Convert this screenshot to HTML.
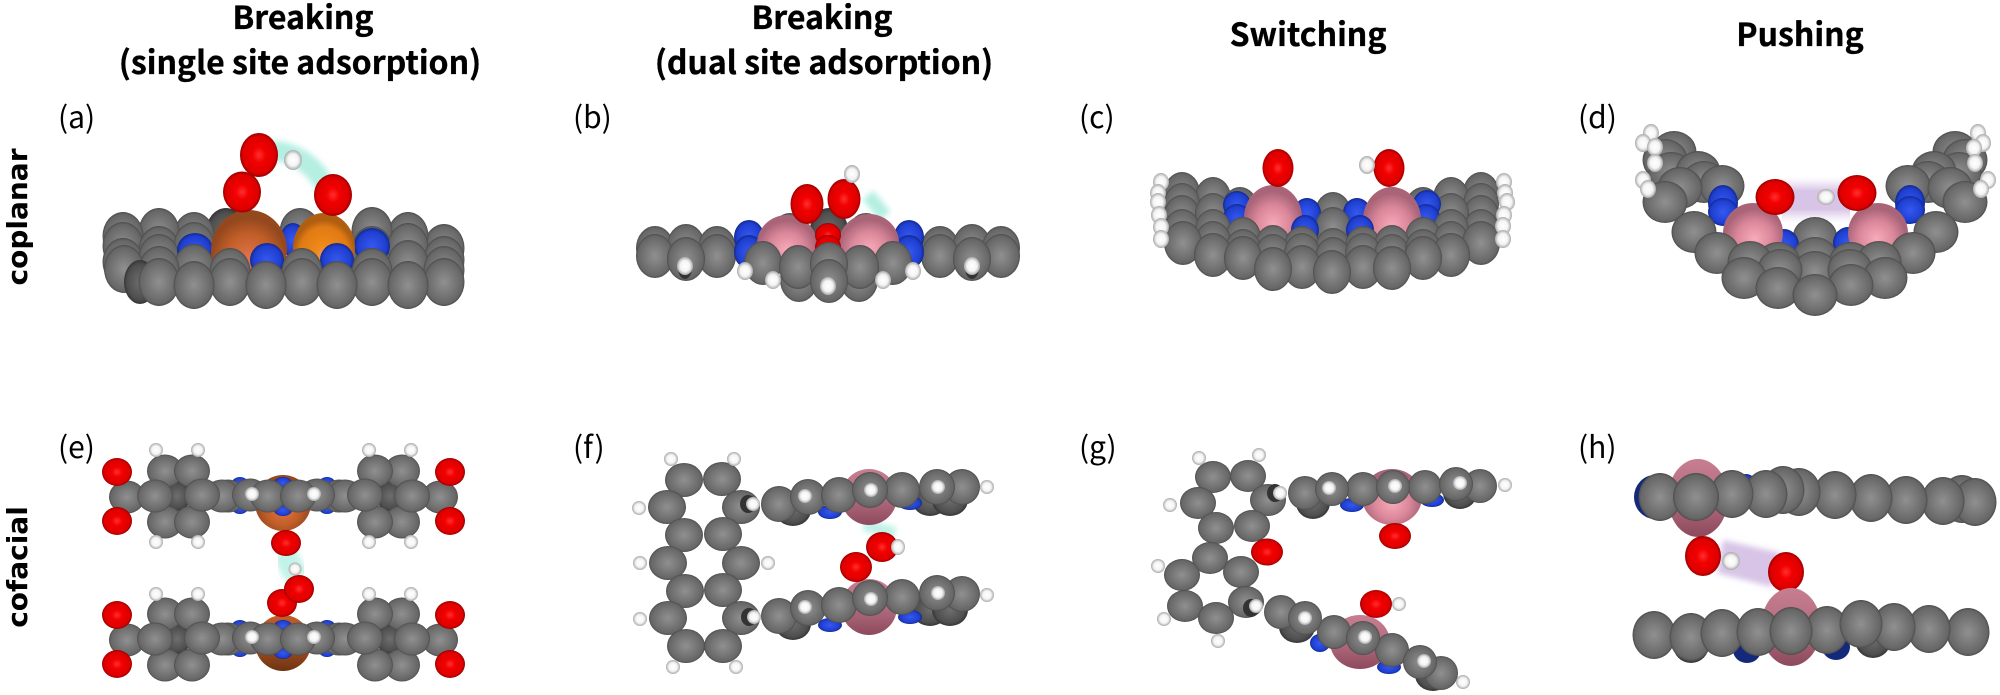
<!DOCTYPE html>
<html><head><meta charset="utf-8"><style>
html,body{margin:0;padding:0;background:#fff;width:2000px;height:695px;overflow:hidden}
svg{display:block}
.h{font-family:"Noto Sans CJK JP","Liberation Sans",sans-serif;font-weight:700;font-size:32px;text-anchor:middle;fill:#000;stroke:#000;stroke-width:.35px}
.l{font-family:"Noto Sans CJK JP","Liberation Sans",sans-serif;font-weight:400;font-size:30px;fill:#000}
.s{font-family:"DejaVu Sans",sans-serif;font-weight:700;font-size:28px;text-anchor:middle;fill:#000}
</style></head><body>
<svg xmlns="http://www.w3.org/2000/svg" width="2000" height="695" viewBox="0 0 2000 695">
<defs>
<radialGradient id="gc"><stop offset="0" stop-color="#909090"/><stop offset=".5" stop-color="#797979"/><stop offset=".9" stop-color="#666"/><stop offset="1" stop-color="#4c4c4c"/></radialGradient>
<radialGradient id="gd"><stop offset="0" stop-color="#6e6e6e"/><stop offset=".8" stop-color="#4e4e4e"/><stop offset="1" stop-color="#363636"/></radialGradient>
<radialGradient id="gr"><stop offset="0" stop-color="#ff3030"/><stop offset=".35" stop-color="#f20000"/><stop offset=".85" stop-color="#dc0000"/><stop offset="1" stop-color="#990000"/></radialGradient>
<radialGradient id="gb"><stop offset="0" stop-color="#3558f0"/><stop offset=".8" stop-color="#1f3fd0"/><stop offset="1" stop-color="#122a90"/></radialGradient>
<radialGradient id="gw"><stop offset="0" stop-color="#fff"/><stop offset=".6" stop-color="#f4f4f4"/><stop offset="1" stop-color="#aaa"/></radialGradient>
<radialGradient id="gp" cy=".6"><stop offset="0" stop-color="#f9abba"/><stop offset=".6" stop-color="#d98699"/><stop offset="1" stop-color="#a96478"/></radialGradient>
<linearGradient id="gpd" x1="0" y1="0" x2="0" y2="1"><stop offset="0" stop-color="#c77e90"/><stop offset=".5" stop-color="#b36c80"/><stop offset="1" stop-color="#8d4a5c"/></linearGradient>
<radialGradient id="gf" cy=".6"><stop offset="0" stop-color="#e0744a"/><stop offset=".6" stop-color="#c25e28"/><stop offset="1" stop-color="#94481e"/></radialGradient>
<linearGradient id="gfd" x1="0" y1="0" x2="0" y2="1"><stop offset="0" stop-color="#c25e28"/><stop offset=".55" stop-color="#a84e20"/><stop offset="1" stop-color="#6c3412"/></linearGradient>
<radialGradient id="go" cy=".6"><stop offset="0" stop-color="#f09a80"/><stop offset=".25" stop-color="#f08a18"/><stop offset=".8" stop-color="#e07a14"/><stop offset="1" stop-color="#b05f10"/></radialGradient>
<linearGradient id="gv" x1="0" y1="0" x2="0" y2="1"><stop offset="0" stop-color="#e4d6ee" stop-opacity="0"/><stop offset=".3" stop-color="#d8c4e6"/><stop offset=".7" stop-color="#d8c4e6"/><stop offset="1" stop-color="#e4d6ee" stop-opacity="0"/></linearGradient>
<filter id="bl" x="-40%" y="-40%" width="180%" height="180%"><feGaussianBlur stdDeviation="3"/></filter>
<ellipse id="a" rx="20.500" ry="24" fill="url(#gc)"/>
<ellipse id="b" rx="19" ry="22" fill="url(#gc)"/>
<ellipse id="c" rx="18" ry="21" fill="url(#gc)"/>
<ellipse id="cf" rx="19" ry="22" fill="url(#gc)"/>
<ellipse id="d" rx="22.500" ry="21" fill="url(#gc)"/>
<ellipse id="e" rx="18" ry="16.500" fill="url(#gc)"/>
<ellipse id="f" rx="19" ry="17" fill="url(#gc)"/>
<ellipse id="g" rx="18" ry="18" fill="url(#gc)"/>
<ellipse id="m" rx="18" ry="16" fill="url(#gc)"/>
<ellipse id="n" rx="17" ry="17" fill="url(#gc)"/>
<ellipse id="k" rx="21.500" ry="24" fill="url(#gc)"/>
<ellipse id="H" rx="8" ry="9" fill="url(#gw)"/>
<ellipse id="I" rx="7" ry="7" fill="url(#gw)"/>
</defs>
<rect width="2000" height="695" fill="#fff"/>

<!-- headers -->
<text class="h" x="303" y="29">Breaking</text>
<text class="h" x="300" y="74">(single site adsorption)</text>
<text class="h" x="822" y="29">Breaking</text>
<text class="h" x="824" y="74">(dual site adsorption)</text>
<text class="h" x="1308" y="46">Switching</text>
<text class="h" x="1800" y="46">Pushing</text>
<text class="l" x="58" y="128">(a)</text>
<text class="l" x="573" y="128">(b)</text>
<text class="l" x="1079" y="128">(c)</text>
<text class="l" x="1578" y="128">(d)</text>
<text class="l" x="58" y="458">(e)</text>
<text class="l" x="573" y="458">(f)</text>
<text class="l" x="1079" y="458">(g)</text>
<text class="l" x="1578" y="458">(h)</text>
<text class="s" transform="translate(27,217) rotate(-90)">coplanar</text>
<text class="s" transform="translate(27,567) rotate(-90)">cofacial</text>

<!-- panel a -->
<path d="M272,150 Q312,155 328,192" fill="none" stroke="#b4efe2" stroke-width="20" filter="url(#bl)"/>
<g>
<use href="#a" x="444" y="248"/><use href="#a" x="408" y="236"/><use href="#a" x="372" y="231"/><use href="#a" x="300" y="232"/>
<ellipse cx="226" cy="232" rx="20" ry="24" fill="url(#gd)"/>
<use href="#a" x="194" y="236"/><use href="#a" x="159" y="232"/><use href="#a" x="123" y="236"/>
<use href="#a" x="123" y="246"/><use href="#a" x="159" y="250"/><use href="#a" x="194" y="246"/>
<use href="#a" x="372" y="250"/><use href="#a" x="408" y="247"/><use href="#a" x="444" y="260"/>
<use href="#a" x="123" y="262"/><use href="#a" x="159" y="258"/><use href="#a" x="408" y="264"/><use href="#a" x="444" y="270"/>
<ellipse cx="293" cy="240" rx="13" ry="17" fill="url(#gb)"/><ellipse cx="372" cy="246" rx="18" ry="18" fill="url(#gb)"/><ellipse cx="195" cy="250" rx="18" ry="17" fill="url(#gb)"/>
<use href="#a" x="194" y="268"/>
<ellipse cx="249" cy="250" rx="38" ry="40" fill="url(#gf)"/>
<ellipse cx="324" cy="248" rx="31" ry="35" fill="url(#go)"/>
<ellipse cx="267" cy="260" rx="17" ry="17" fill="url(#gb)"/><ellipse cx="337" cy="260" rx="17" ry="17" fill="url(#gb)"/>
<use href="#a" x="159" y="270"/><use href="#a" x="230" y="272"/><use href="#a" x="302" y="272"/><use href="#a" x="372" y="272"/>
<ellipse cx="124" cy="269" rx="20" ry="24" fill="url(#gc)"/>
<ellipse cx="140" cy="282" rx="16" ry="22" fill="url(#gd)"/>
<use href="#a" x="159" y="282"/><use href="#a" x="230" y="282"/><use href="#a" x="302" y="282"/><use href="#a" x="372" y="282"/><use href="#a" x="444" y="282"/>
<use href="#a" x="194" y="285"/><use href="#a" x="266" y="285"/><use href="#a" x="337" y="285"/><use href="#a" x="408" y="285"/>
<ellipse cx="242" cy="192" rx="19" ry="20.500" fill="url(#gr)"/>
<ellipse cx="259" cy="155" rx="19" ry="22" fill="url(#gr)"/>
<ellipse cx="333" cy="195" rx="19" ry="21" fill="url(#gr)"/>
<ellipse cx="293" cy="160" rx="9" ry="10" fill="url(#gw)"/>
</g>

<!-- panel b -->
<path d="M868,195 L885,216" stroke="#b4efe2" stroke-width="14" fill="none" filter="url(#bl)"/>
<g>
<use href="#b" x="655" y="248"/><use href="#b" x="686" y="246"/><use href="#b" x="717" y="248"/><use href="#b" x="655" y="256"/><use href="#b" x="717" y="256"/><use href="#b" x="686" y="259"/>
<use href="#b" x="940" y="248"/><use href="#b" x="972" y="246"/><use href="#b" x="1001" y="248"/><use href="#b" x="940" y="256"/><use href="#b" x="1001" y="256"/><use href="#b" x="972" y="259"/>
<ellipse cx="685" cy="268" rx="7" ry="11" fill="#333"/><ellipse cx="972" cy="268" rx="7" ry="11" fill="#333"/>
<use href="#b" x="790" y="235"/><ellipse cx="829" cy="230" rx="19" ry="22" fill="url(#gd)"/><use href="#b" x="866" y="235"/>
<ellipse cx="749" cy="237" rx="15" ry="17" fill="url(#gb)"/><ellipse cx="749" cy="252" rx="15" ry="17" fill="url(#gb)"/><ellipse cx="909" cy="237" rx="15" ry="17" fill="url(#gb)"/><ellipse cx="909" cy="252" rx="15" ry="17" fill="url(#gb)"/>
<ellipse cx="787" cy="244" rx="30" ry="29" fill="url(#gp)"/><ellipse cx="869" cy="243" rx="30" ry="29" fill="url(#gp)"/>
<ellipse cx="828" cy="235" rx="13" ry="12" fill="url(#gr)"/><ellipse cx="828" cy="247" rx="13" ry="12" fill="url(#gr)"/>
<use href="#b" x="799" y="280"/><use href="#b" x="859" y="280"/>
<use href="#b" x="763" y="263"/><use href="#b" x="893" y="263"/><use href="#b" x="798" y="267"/><use href="#b" x="860" y="267"/><use href="#b" x="829" y="264"/><use href="#b" x="829" y="281"/>
<use href="#H" x="745" y="271"/><use href="#H" x="773" y="280"/><use href="#H" x="828" y="286"/><use href="#H" x="883" y="280"/><use href="#H" x="913" y="271"/><use href="#H" x="685" y="266"/><use href="#H" x="972" y="266"/>
<ellipse cx="807" cy="204" rx="16.500" ry="20" fill="url(#gr)"/><ellipse cx="844" cy="199" rx="16.500" ry="20" fill="url(#gr)"/>
<use href="#H" x="852" y="174"/>
</g>

<!-- panel c -->
<g>
<use href="#c" x="1182" y="193"/><use href="#c" x="1481" y="193"/><use href="#c" x="1213" y="198"/><use href="#c" x="1451" y="198"/>
<use href="#c" x="1182" y="204"/><use href="#c" x="1481" y="204"/><use href="#c" x="1240" y="208"/><use href="#c" x="1423" y="208"/><use href="#c" x="1333" y="213"/>
<use href="#c" x="1182" y="216"/><use href="#c" x="1481" y="216"/><use href="#c" x="1213" y="214"/><use href="#c" x="1451" y="214"/>
<use href="#c" x="1273" y="208"/><use href="#c" x="1392" y="208"/>
<ellipse cx="1237" cy="205" rx="14" ry="14" fill="url(#gb)"/><ellipse cx="1427" cy="204" rx="14" ry="14" fill="url(#gb)"/>
<ellipse cx="1237" cy="218" rx="14" ry="14" fill="url(#gb)"/><ellipse cx="1426" cy="218" rx="14" ry="14" fill="url(#gb)"/>
<ellipse cx="1307" cy="213" rx="14" ry="15" fill="url(#gb)"/><ellipse cx="1357" cy="213" rx="14" ry="15" fill="url(#gb)"/>
<use href="#c" x="1333" y="228"/>
<ellipse cx="1273" cy="218" rx="29" ry="33" fill="url(#gp)"/><ellipse cx="1392" cy="220" rx="29" ry="33" fill="url(#gp)"/>
<ellipse cx="1305" cy="230" rx="14" ry="15" fill="url(#gb)"/><ellipse cx="1360" cy="230" rx="14" ry="15" fill="url(#gb)"/>
<use href="#c" x="1182" y="230"/><use href="#c" x="1481" y="230"/><use href="#c" x="1213" y="230"/><use href="#c" x="1451" y="230"/>
<use href="#c" x="1243" y="238"/><use href="#c" x="1423" y="238"/><use href="#c" x="1273" y="246"/><use href="#c" x="1302" y="247"/><use href="#c" x="1333" y="249"/><use href="#c" x="1363" y="247"/><use href="#c" x="1392" y="246"/>
<use href="#c" x="1213" y="242"/><use href="#c" x="1451" y="242"/>
<use href="#c" x="1243" y="250"/><use href="#c" x="1273" y="255"/><use href="#c" x="1302" y="254"/><use href="#c" x="1333" y="258"/><use href="#c" x="1363" y="254"/><use href="#c" x="1392" y="255"/><use href="#c" x="1423" y="250"/>
<use href="#cf" x="1183" y="243"/><use href="#cf" x="1481" y="243"/>
<use href="#cf" x="1213" y="255"/><use href="#cf" x="1451" y="255"/>
<use href="#cf" x="1243" y="258"/><use href="#cf" x="1423" y="258"/>
<use href="#cf" x="1302" y="267"/><use href="#cf" x="1363" y="267"/>
<use href="#cf" x="1273" y="269"/><use href="#cf" x="1392" y="268"/>
<use href="#cf" x="1332" y="272"/>
<use href="#H" x="1161" y="182"/><use href="#H" x="1158" y="193"/><use href="#H" x="1158" y="202"/><use href="#H" x="1159" y="215"/><use href="#H" x="1161" y="227"/><use href="#H" x="1161" y="239"/>
<use href="#H" x="1504" y="182"/><use href="#H" x="1505" y="193"/><use href="#H" x="1507" y="202"/><use href="#H" x="1504" y="215"/><use href="#H" x="1503" y="226"/><use href="#H" x="1503" y="239"/>
<ellipse cx="1278" cy="168" rx="15.500" ry="19" fill="url(#gr)"/><ellipse cx="1389" cy="168" rx="15.500" ry="19" fill="url(#gr)"/>
<use href="#H" x="1367" y="165"/>
</g>

<!-- panel d -->
<rect x="1782" y="177" width="68" height="46" fill="url(#gv)"/>
<g>
<use href="#d" x="1815" y="238"/>
<use href="#d" x="1674" y="152"/><use href="#d" x="1955" y="152"/><use href="#d" x="1665" y="160"/><use href="#d" x="1965" y="160"/><use href="#d" x="1671" y="173"/><use href="#d" x="1959" y="173"/><use href="#d" x="1698" y="172"/><use href="#d" x="1934" y="172"/><use href="#d" x="1704" y="182"/><use href="#d" x="1928" y="182"/>
<use href="#d" x="1722" y="186"/><use href="#d" x="1908" y="186"/><use href="#d" x="1680" y="188"/><use href="#d" x="1950" y="188"/>
<ellipse cx="1723" cy="203" rx="15" ry="18" fill="url(#gb)"/><ellipse cx="1910" cy="203" rx="15" ry="18" fill="url(#gb)"/>
<ellipse cx="1723" cy="212" rx="15" ry="14" fill="url(#gb)"/><ellipse cx="1910" cy="210" rx="15" ry="14" fill="url(#gb)"/>
<use href="#d" x="1665" y="202"/><use href="#d" x="1965" y="202"/>
<ellipse cx="1784" cy="245" rx="15" ry="16" fill="url(#gb)"/><ellipse cx="1848" cy="243" rx="15" ry="16" fill="url(#gb)"/>
<ellipse cx="1753" cy="233" rx="30" ry="30" transform="rotate(-15 1753 233)" fill="url(#gp)"/>
<ellipse cx="1878" cy="233" rx="30" ry="30" transform="rotate(15 1878 233)" fill="url(#gp)"/>
<use href="#d" x="1694" y="232"/><use href="#d" x="1936" y="232"/>
<use href="#d" x="1815" y="258"/><use href="#d" x="1778" y="263"/><use href="#d" x="1851" y="263"/>
<use href="#d" x="1717" y="253"/><use href="#d" x="1913" y="253"/><use href="#d" x="1750" y="262"/><use href="#d" x="1879" y="262"/>
<use href="#d" x="1815" y="272"/><use href="#d" x="1780" y="270"/><use href="#d" x="1850" y="270"/>
<use href="#d" x="1744" y="278"/><use href="#d" x="1885" y="278"/><use href="#d" x="1778" y="288"/><use href="#d" x="1851" y="285"/><use href="#d" x="1815" y="295"/>
<use href="#H" x="1651" y="133"/><use href="#H" x="1643" y="143"/><use href="#H" x="1655" y="147"/><use href="#H" x="1655" y="163"/><use href="#H" x="1643" y="180"/><use href="#H" x="1648" y="189"/>
<use href="#H" x="1978" y="133"/><use href="#H" x="1983" y="143"/><use href="#H" x="1974" y="148"/><use href="#H" x="1975" y="163"/><use href="#H" x="1988" y="180"/><use href="#H" x="1981" y="189"/>
<ellipse cx="1775" cy="197" rx="19.500" ry="18" fill="url(#gr)"/><ellipse cx="1857" cy="193" rx="19.500" ry="18" fill="url(#gr)"/>
<ellipse cx="1826" cy="197" rx="9" ry="8" fill="url(#gw)"/>
</g>

<!-- panel e: top -->
<path d="M284,552 Q290,565 298,578" stroke="#c2f3e8" stroke-width="24" fill="none" filter="url(#bl)"/>
<g>
<ellipse cx="283" cy="503" rx="28" ry="28" fill="url(#gf)"/>
<ellipse cx="240" cy="483" rx="8" ry="6" fill="url(#gb)"/><ellipse cx="240" cy="508" rx="8" ry="6" fill="url(#gb)"/><ellipse cx="283" cy="483" rx="9" ry="6" fill="url(#gb)"/><ellipse cx="283" cy="510" rx="9" ry="6" fill="url(#gb)"/><ellipse cx="327" cy="483" rx="8" ry="6" fill="url(#gb)"/><ellipse cx="327" cy="508" rx="8" ry="6" fill="url(#gb)"/>
<ellipse cx="177" cy="496" rx="14" ry="15" fill="url(#gd)"/><ellipse cx="390" cy="496" rx="14" ry="15" fill="url(#gd)"/>
<use href="#e" x="228" y="496"/><use href="#e" x="339" y="496"/><use href="#e" x="222" y="496"/><use href="#e" x="345" y="496"/>
<use href="#e" x="165" y="471"/><use href="#e" x="192" y="471"/><use href="#e" x="165" y="522"/><use href="#e" x="192" y="522"/>
<use href="#e" x="402" y="471"/><use href="#e" x="375" y="471"/><use href="#e" x="402" y="522"/><use href="#e" x="375" y="522"/>
<use href="#e" x="127" y="497"/><use href="#e" x="155" y="496"/><use href="#e" x="202" y="495"/><use href="#e" x="440" y="497"/><use href="#e" x="412" y="496"/><use href="#e" x="365" y="495"/>
<use href="#e" x="250" y="495"/><use href="#e" x="317" y="495"/><use href="#e" x="268" y="496"/><use href="#e" x="298" y="496"/>
<use href="#I" x="156" y="450"/><use href="#I" x="198" y="450"/><use href="#I" x="156" y="542"/><use href="#I" x="198" y="542"/>
<use href="#I" x="369" y="450"/><use href="#I" x="411" y="450"/><use href="#I" x="369" y="542"/><use href="#I" x="411" y="542"/>
<use href="#I" x="252" y="494"/><use href="#I" x="314" y="494"/>
<ellipse cx="117" cy="472" rx="15" ry="14" fill="url(#gr)"/><ellipse cx="117" cy="521" rx="15" ry="14" fill="url(#gr)"/><ellipse cx="450" cy="472" rx="15" ry="14" fill="url(#gr)"/><ellipse cx="450" cy="521" rx="15" ry="14" fill="url(#gr)"/>
<ellipse cx="286" cy="543" rx="15" ry="13" fill="url(#gr)"/>
<!-- bottom -->
<ellipse cx="283" cy="643" rx="28" ry="28" fill="url(#gfd)"/>
<ellipse cx="240" cy="626" rx="8" ry="6" fill="url(#gb)"/><ellipse cx="240" cy="651" rx="8" ry="6" fill="url(#gb)"/><ellipse cx="283" cy="626" rx="9" ry="6" fill="url(#gb)"/><ellipse cx="283" cy="653" rx="9" ry="6" fill="url(#gb)"/><ellipse cx="327" cy="626" rx="8" ry="6" fill="url(#gb)"/><ellipse cx="327" cy="651" rx="8" ry="6" fill="url(#gb)"/>
<ellipse cx="177" cy="639" rx="14" ry="15" fill="url(#gd)"/><ellipse cx="390" cy="639" rx="14" ry="15" fill="url(#gd)"/>
<use href="#e" x="228" y="639"/><use href="#e" x="339" y="639"/><use href="#e" x="222" y="639"/><use href="#e" x="345" y="639"/>
<use href="#e" x="165" y="614"/><use href="#e" x="192" y="614"/><use href="#e" x="165" y="665"/><use href="#e" x="192" y="665"/>
<use href="#e" x="402" y="614"/><use href="#e" x="375" y="614"/><use href="#e" x="402" y="665"/><use href="#e" x="375" y="665"/>
<use href="#e" x="127" y="640"/><use href="#e" x="155" y="639"/><use href="#e" x="202" y="638"/><use href="#e" x="440" y="640"/><use href="#e" x="412" y="639"/><use href="#e" x="365" y="638"/>
<use href="#e" x="250" y="638"/><use href="#e" x="317" y="638"/><use href="#e" x="268" y="639"/><use href="#e" x="298" y="639"/>
<use href="#I" x="156" y="594"/><use href="#I" x="198" y="594"/><use href="#I" x="369" y="594"/><use href="#I" x="411" y="594"/>
<use href="#I" x="252" y="637"/><use href="#I" x="314" y="637"/>
<ellipse cx="117" cy="615" rx="15" ry="14" fill="url(#gr)"/><ellipse cx="117" cy="664" rx="15" ry="14" fill="url(#gr)"/><ellipse cx="450" cy="615" rx="15" ry="14" fill="url(#gr)"/><ellipse cx="450" cy="664" rx="15" ry="14" fill="url(#gr)"/>
<ellipse cx="282" cy="603" rx="15" ry="14" fill="url(#gr)"/><ellipse cx="299" cy="589" rx="15" ry="14" fill="url(#gr)"/>
<ellipse cx="295" cy="569" rx="6.500" ry="6.500" fill="url(#gw)"/>
</g>

<!-- panel f -->
<path d="M864,525 L895,533" stroke="#bff2e7" stroke-width="12" fill="none" filter="url(#bl)"/>
<g>
<use href="#f" x="684" y="480"/><use href="#f" x="722" y="479"/><use href="#f" x="667" y="507"/><use href="#f" x="741" y="507"/><use href="#f" x="684" y="535"/><use href="#f" x="723" y="534"/><use href="#f" x="668" y="563"/><use href="#f" x="741" y="563"/><use href="#f" x="685" y="591"/><use href="#f" x="723" y="590"/><use href="#f" x="668" y="618"/><use href="#f" x="741" y="618"/><use href="#f" x="686" y="646"/><use href="#f" x="723" y="646"/>
<ellipse cx="748" cy="504" rx="8" ry="9" fill="#333"/><ellipse cx="749" cy="617" rx="8" ry="9" fill="#333"/>
<use href="#I" x="671" y="459"/><use href="#I" x="734" y="459"/><use href="#I" x="639" y="508"/><use href="#I" x="640" y="563"/><use href="#I" x="768" y="563"/><use href="#I" x="640" y="619"/><use href="#I" x="673" y="667"/><use href="#I" x="736" y="667"/><use href="#I" x="753" y="504"/><use href="#I" x="754" y="617"/>
<ellipse cx="793" cy="510" rx="18" ry="16" fill="url(#gd)"/><ellipse cx="793" cy="624" rx="18" ry="16" fill="url(#gd)"/>
<ellipse cx="930" cy="500" rx="18" ry="16" fill="url(#gd)"/><ellipse cx="950" cy="500" rx="18" ry="16" fill="url(#gd)"/><ellipse cx="930" cy="610" rx="18" ry="16" fill="url(#gd)"/><ellipse cx="950" cy="610" rx="18" ry="16" fill="url(#gd)"/>
<ellipse cx="830" cy="512" rx="12" ry="7" fill="url(#gb)"/><ellipse cx="910" cy="503" rx="12" ry="7" fill="url(#gb)"/><ellipse cx="830" cy="625" rx="12" ry="7" fill="url(#gb)"/><ellipse cx="910" cy="617" rx="12" ry="7" fill="url(#gb)"/>
<ellipse cx="869" cy="497" rx="28" ry="28" fill="url(#gpd)"/><ellipse cx="869" cy="607" rx="28" ry="28" fill="url(#gpd)"/>
<use href="#g" x="779" y="504"/><use href="#g" x="808" y="497"/><use href="#g" x="839" y="495"/><use href="#g" x="902" y="490"/><use href="#g" x="962" y="487"/><use href="#g" x="870" y="490"/><use href="#g" x="937" y="487"/>
<use href="#g" x="779" y="616"/><use href="#g" x="808" y="608"/><use href="#g" x="839" y="605"/><use href="#g" x="902" y="597"/><use href="#g" x="962" y="594"/><use href="#g" x="870" y="598"/><use href="#g" x="937" y="593"/>
<use href="#I" x="805" y="496"/><use href="#I" x="871" y="490"/><use href="#I" x="938" y="487"/><use href="#I" x="987" y="487"/><use href="#I" x="805" y="607"/><use href="#I" x="871" y="599"/><use href="#I" x="938" y="593"/><use href="#I" x="987" y="595"/>
<ellipse cx="882" cy="547" rx="16" ry="15" fill="url(#gr)"/><ellipse cx="856" cy="567" rx="16" ry="15" fill="url(#gr)"/>
<ellipse cx="898" cy="547" rx="7" ry="8" fill="url(#gw)"/>
</g>

<!-- panel g -->
<g>
<use href="#m" x="1213" y="477"/><use href="#m" x="1248" y="476"/><use href="#m" x="1198" y="503"/><use href="#m" x="1268" y="500"/><use href="#m" x="1216" y="528"/><use href="#m" x="1252" y="526"/><use href="#m" x="1210" y="558"/><use href="#m" x="1241" y="572"/><use href="#m" x="1182" y="575"/><use href="#m" x="1246" y="602"/><use href="#m" x="1185" y="606"/><use href="#m" x="1216" y="618"/>
<ellipse cx="1275" cy="493" rx="8" ry="9" fill="#333"/><ellipse cx="1251" cy="608" rx="8" ry="9" fill="#333"/>
<use href="#I" x="1199" y="458"/><use href="#I" x="1259" y="455"/><use href="#I" x="1170" y="505"/><use href="#I" x="1280" y="493"/><use href="#I" x="1158" y="566"/><use href="#I" x="1164" y="619"/><use href="#I" x="1218" y="641"/><use href="#I" x="1256" y="606"/>
<ellipse cx="1267" cy="552" rx="16" ry="13.500" fill="url(#gr)"/>
<ellipse cx="1313" cy="503" rx="17" ry="16" fill="url(#gd)"/><ellipse cx="1460" cy="493" rx="17" ry="16" fill="url(#gd)"/>
<ellipse cx="1352" cy="505" rx="12" ry="7" fill="url(#gb)"/><ellipse cx="1432" cy="500" rx="12" ry="7" fill="url(#gb)"/>
<ellipse cx="1392" cy="497" rx="30" ry="28" fill="url(#gp)"/>
<use href="#n" x="1305" y="493"/><use href="#n" x="1363" y="489"/><use href="#n" x="1425" y="487"/><use href="#n" x="1480" y="486"/><use href="#n" x="1332" y="489"/><use href="#n" x="1393" y="487"/><use href="#n" x="1456" y="484"/>
<use href="#I" x="1329" y="488"/><use href="#I" x="1395" y="486"/><use href="#I" x="1460" y="483"/><use href="#I" x="1505" y="485"/>
<ellipse cx="1395" cy="536" rx="16" ry="13" fill="url(#gr)"/>
<ellipse cx="1297" cy="627" rx="18" ry="16" fill="url(#gd)"/><ellipse cx="1433" cy="675" rx="18" ry="16" fill="url(#gd)"/>
<ellipse cx="1320" cy="643" rx="10" ry="9" fill="url(#gb)"/><ellipse cx="1389" cy="667" rx="12" ry="7" fill="url(#gb)"/>
<ellipse cx="1360" cy="642" rx="30" ry="27" fill="url(#gpd)"/>
<use href="#n" x="1281" y="612"/><use href="#n" x="1334" y="632"/><use href="#n" x="1392" y="650"/><use href="#n" x="1441" y="673"/><use href="#n" x="1305" y="618"/><use href="#n" x="1363" y="638"/><use href="#n" x="1420" y="662"/>
<use href="#I" x="1305" y="618"/><use href="#I" x="1365" y="637"/><use href="#I" x="1424" y="661"/><use href="#I" x="1463" y="682"/>
<ellipse cx="1376" cy="604" rx="16" ry="14" fill="url(#gr)"/><use href="#I" x="1399" y="604"/>
</g>

<!-- panel h -->
<polygon points="1723,540 1781,553 1772,587 1717,573" fill="#d8c4e6" filter="url(#bl)"/>
<g>
<ellipse cx="1746" cy="488" rx="12" ry="14" fill="url(#gb)"/>
<ellipse cx="1655" cy="497" rx="21" ry="22" fill="#14297a"/>
<ellipse cx="1698" cy="498" rx="30" ry="39" fill="url(#gpd)"/>
<use href="#k" x="1962" y="499"/><use href="#k" x="1975" y="502"/><use href="#k" x="1943" y="501"/><use href="#k" x="1906" y="500"/><use href="#k" x="1871" y="498"/><use href="#k" x="1835" y="495"/><use href="#k" x="1799" y="492"/><use href="#k" x="1783" y="490"/><use href="#k" x="1766" y="494"/><use href="#k" x="1732" y="494"/><use href="#k" x="1660" y="497"/>
<ellipse cx="1696" cy="497" rx="23" ry="24" fill="url(#gc)"/>
<ellipse cx="1703" cy="556" rx="18" ry="20" fill="url(#gr)"/>
<ellipse cx="1731" cy="561" rx="9" ry="9" fill="url(#gw)"/>
<ellipse cx="1786" cy="572" rx="18" ry="20" fill="url(#gr)"/>
<ellipse cx="1791" cy="627" rx="30" ry="39" fill="url(#gpd)"/>
<ellipse cx="1747" cy="650" rx="14" ry="13" fill="#14297a"/><ellipse cx="1836" cy="647" rx="14" ry="13" fill="#14297a"/>
<ellipse cx="1691" cy="645" rx="18" ry="18" fill="url(#gd)"/><ellipse cx="1873" cy="640" rx="18" ry="18" fill="url(#gd)"/>
<use href="#k" x="1654" y="635"/><use href="#k" x="1691" y="637"/><use href="#k" x="1722" y="633"/><use href="#k" x="1758" y="632"/><use href="#k" x="1968" y="632"/><use href="#k" x="1929" y="629"/><use href="#k" x="1894" y="627"/><use href="#k" x="1827" y="630"/><use href="#k" x="1861" y="624"/><use href="#k" x="1791" y="631"/>
</g>
</svg>
</body></html>
